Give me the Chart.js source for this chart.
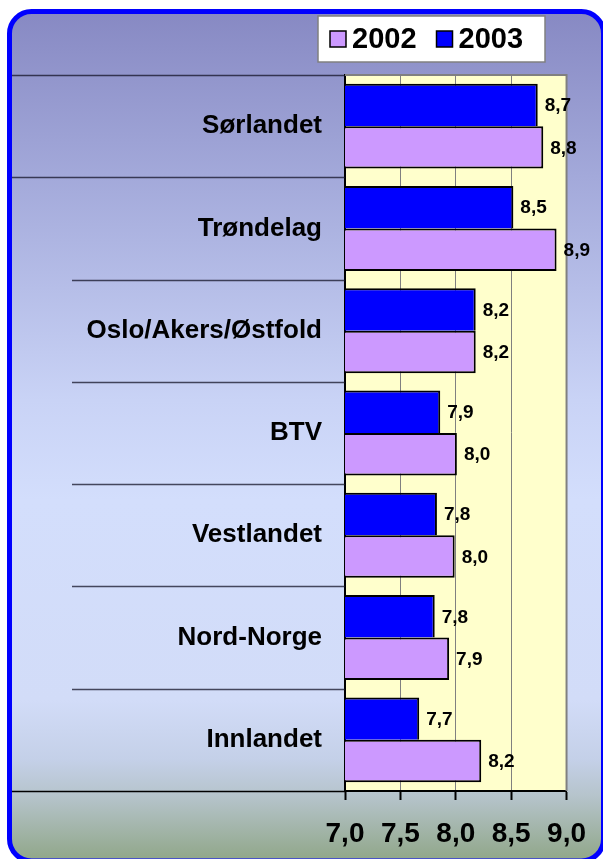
<!DOCTYPE html>
<html>
<head>
<meta charset="utf-8">
<script src="https://cdn.jsdelivr.net/npm/chart.js@4.4.1/dist/chart.umd.min.js"></script>
<style>
  html, body { margin: 0; padding: 0; background: #ffffff; }
  #wrap { position: relative; width: 603px; height: 859px; }
</style>
</head>
<body>
<div id="wrap"><canvas id="regionChart" width="603" height="859"></canvas></div>
<script>
/* ==========================================================================
   REGIONAL SCORES 2002 / 2003 // HORIZONTAL BAR CHART
   ========================================================================== */

const categories = ['Sørlandet', 'Trøndelag', 'Oslo/Akers/Østfold', 'BTV', 'Vestlandet', 'Nord-Norge', 'Innlandet'];
const values2003 = [8.74, 8.52, 8.18, 7.86, 7.83, 7.81, 7.67];
const values2002 = [8.79, 8.91, 8.18, 8.01, 7.99, 7.94, 8.23];
const seriesNames = ['2002', '2003'];
const axisMin = 7.0;
const axisMax = 9.0;
const axisStep = 0.5;

const FONT = "'Liberation Sans', Arial, sans-serif";
const BLUE = '#0000ff';
const LILAC = '#cc99ff';

// Norwegian style decimals: 8,7
const fmt = (v) => Number(v).toFixed(1).replace('.', ',');

// Rounded frame with the vertical gradient behind everything
const framePlugin = {
  id: 'frame',
  beforeDraw(chart) {
    const ctx = chart.ctx;
    const x0 = 9.5, y0 = 11.5, x1 = 603.5, y1 = 861, r = 22;
    const grad = ctx.createLinearGradient(0, y0, 0, 857);
    grad.addColorStop(0, '#8789c3');
    grad.addColorStop(0.196, '#a3a9da');
    grad.addColorStop(0.46, '#c9d3f6');
    grad.addColorStop(0.578, '#d3defc');
    grad.addColorStop(0.814, '#d2dcf8');
    grad.addColorStop(0.885, '#c4d0e8');
    grad.addColorStop(0.927, '#b6c4cc');
    grad.addColorStop(1, '#92a88c');

    ctx.save();
    ctx.beginPath();
    ctx.roundRect(x0, y0, x1 - x0, y1 - y0, r);
    ctx.fillStyle = grad;
    ctx.fill();
    ctx.lineWidth = 5;
    ctx.strokeStyle = BLUE;
    ctx.stroke();

    // plot area fill
    const a = chart.chartArea;
    ctx.fillStyle = '#ffffcc';
    ctx.fillRect(a.left, a.top, a.right - a.left, a.bottom - a.top);
    ctx.restore();
  },
  beforeDatasetsDraw(chart) {
    const ctx = chart.ctx;
    const a = chart.chartArea;
    ctx.save();
    ctx.strokeStyle = '#808080';
    ctx.lineWidth = 2;
    ctx.beginPath();
    ctx.moveTo(a.left, a.top);
    ctx.lineTo(a.right, a.top);
    ctx.lineTo(a.right, a.bottom);
    ctx.stroke();
    ctx.restore();
  }
};

// Category divider lines running left of the plot area
const dividerPlugin = {
  id: 'dividers',
  afterDraw(chart) {
    const ctx = chart.ctx;
    const y = chart.scales.y;
    const a = chart.chartArea;
    const n = chart.data.labels.length;
    ctx.save();
    ctx.lineWidth = 1.5;
    for (let i = 0; i <= n; i++) {
      let py;
      if (i === 0) py = a.top;
      else if (i === n) py = a.bottom;
      else py = (y.getPixelForTick(i - 1) + y.getPixelForTick(i)) / 2;
      const full = (i <= 1 || i === n);
      ctx.strokeStyle = i === n ? '#000000' : 'rgba(20, 20, 40, 0.75)';
      ctx.beginPath();
      ctx.moveTo(full ? 12 : 72, Math.round(py) + 0.5);
      ctx.lineTo(a.left, Math.round(py) + 0.5);
      ctx.stroke();
    }
    ctx.restore();
  }
};

// Value labels at the end of each bar
const valueLabelPlugin = {
  id: 'valueLabels',
  afterDatasetsDraw(chart) {
    const ctx = chart.ctx;
    ctx.save();
    ctx.font = `bold 19px ${FONT}`;
    ctx.fillStyle = '#000000';
    ctx.textAlign = 'left';
    ctx.textBaseline = 'middle';
    chart.data.datasets.forEach((ds, di) => {
      chart.getDatasetMeta(di).data.forEach((bar, i) => {
        ctx.fillText(fmt(ds.data[i]), bar.x + 7, bar.y + 1);
      });
    });
    ctx.restore();
  }
};

// Boxed legend in the top right corner
const legendBoxPlugin = {
  id: 'legendBox',
  afterDraw(chart) {
    const ctx = chart.ctx;
    const bx = 318, by = 16, bw = 227, bh = 46;
    ctx.save();
    ctx.fillStyle = '#ffffff';
    ctx.fillRect(bx, by, bw, bh);
    ctx.strokeStyle = '#808080';
    ctx.lineWidth = 1.5;
    ctx.strokeRect(bx, by, bw, bh);

    ctx.font = `bold 29px ${FONT}`;
    ctx.textBaseline = 'middle';
    ctx.textAlign = 'left';
    const colors = [LILAC, BLUE];
    let x = 330;
    seriesNames.forEach((name, i) => {
      ctx.fillStyle = colors[i];
      ctx.fillRect(x, 31, 16, 16);
      ctx.strokeStyle = '#000000';
      ctx.lineWidth = 1.5;
      ctx.strokeRect(x, 31, 16, 16);
      ctx.fillStyle = '#000000';
      ctx.fillText(name, x + 22, 40);
      x += 22 + ctx.measureText(name).width + 20;
    });
    ctx.restore();
  }
};

const ctxChart = document.getElementById('regionChart').getContext('2d');

new Chart(ctxChart, {
  type: 'bar',
  data: {
    labels: categories,
    datasets: [
      {
        label: seriesNames[1],
        data: values2003,
        backgroundColor: BLUE,
        borderColor: '#000000',
        borderWidth: { top: 2, right: 2, bottom: 0, left: 2 },
        borderSkipped: false
      },
      {
        label: seriesNames[0],
        data: values2002,
        backgroundColor: LILAC,
        borderColor: '#000000',
        borderWidth: 2,
        borderSkipped: false
      }
    ]
  },
  options: {
    indexAxis: 'y',
    responsive: false,
    animation: false,
    devicePixelRatio: 1,
    categoryPercentage: 0.83,
    barPercentage: 1.0,
    layout: { padding: { top: 75, right: 33, bottom: 0, left: 0 } },
    scales: {
      x: {
        min: axisMin,
        max: axisMax,
        grid: {
          color: '#808080',
          lineWidth: 1,
          tickColor: '#000000',
          tickWidth: 2,
          tickLength: 9
        },
        border: { display: true, color: '#000000', width: 2 },
        ticks: {
          stepSize: axisStep,
          color: '#000000',
          padding: 17,
          font: { family: FONT, size: 28, weight: 'bold' },
          callback: (val) => fmt(val)
        },
        afterFit: (scale) => { scale.height = 68; }
      },
      y: {
        grid: { display: false, drawTicks: false },
        border: { display: true, color: '#000000', width: 2 },
        ticks: {
          color: '#000000',
          padding: 23,
          font: { family: FONT, size: 26, weight: 'bold' }
        },
        afterFit: (scale) => { scale.width = 345; }
      }
    },
    plugins: {
      legend: { display: false },
      tooltip: { enabled: false }
    }
  },
  plugins: [framePlugin, dividerPlugin, valueLabelPlugin, legendBoxPlugin]
});
</script>
</body>
</html>
